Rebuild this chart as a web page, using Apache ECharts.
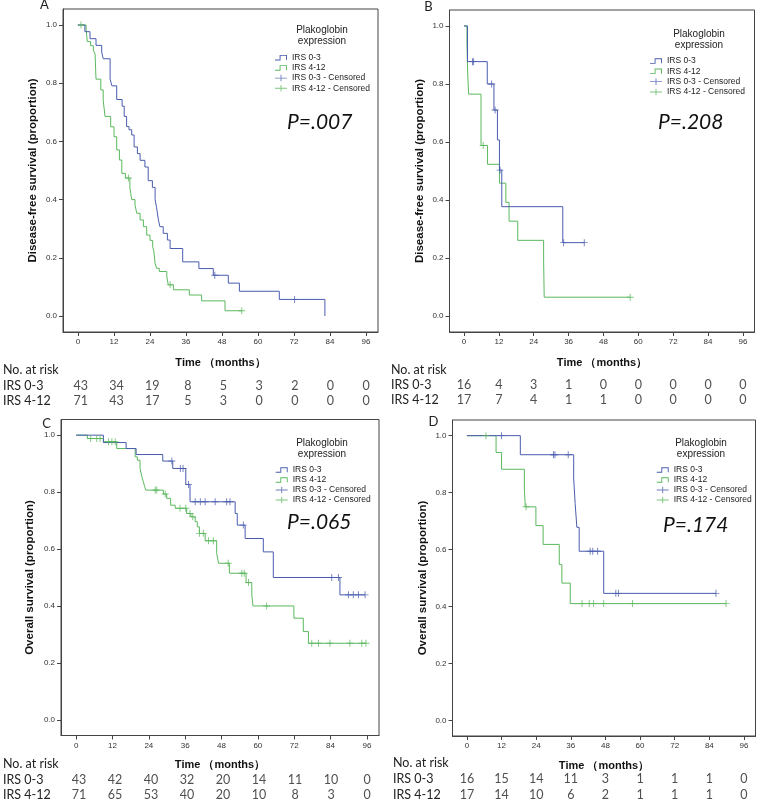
<!DOCTYPE html>
<html><head><meta charset="utf-8">
<script src="https://cdn.jsdelivr.net/npm/echarts@6/dist/echarts.min.js"></script>
<style>html,body{margin:0;padding:0;background:#fff}#c{width:762px;height:803px}</style>
</head><body><div id="c"></div><script>
// ---------- DATA ----------
const xTicks = [0, 12, 24, 36, 48, 60, 72, 84, 96];
const yTicks = [0, 0.2, 0.4, 0.6, 0.8, 1.0];
const groupNames = ['IRS 0-3', 'IRS 4-12'];
const censorNames = ['IRS 0-3 - Censored', 'IRS 4-12 - Censored'];

// Panel A: disease-free survival, cohort 1
const aBlueT = [0, 2.3, 4.0, 6.0, 7.9, 8.4, 10.7, 11.3, 12.9, 14.7, 15.4, 16.2, 17.0, 17.9, 18.7, 19.8, 20.7, 22.3, 23.4, 24.8, 25.7, 26.2, 26.8, 27.3, 28.4, 29.8, 30.7, 34.9, 40.3, 45.1, 50.1, 53.8, 67.1, 82.3];
const aBlueS = [1.0, 0.977, 0.953, 0.930, 0.907, 0.884, 0.814, 0.791, 0.744, 0.721, 0.686, 0.651, 0.640, 0.622, 0.581, 0.558, 0.535, 0.512, 0.465, 0.442, 0.400, 0.372, 0.330, 0.307, 0.284, 0.261, 0.232, 0.186, 0.163, 0.140, 0.113, 0.085, 0.057, 0.0];
const aBlueCens = [45.6, 72.2];
const aGreenT = [0, 2.7, 3.1, 4.2, 5.1, 5.7, 6.0, 7.6, 8.4, 9.0, 10.9, 12.0, 12.9, 13.8, 14.6, 15.8, 17.3, 17.6, 17.9, 19.0, 19.6, 20.7, 21.8, 22.9, 24.0, 24.9, 25.3, 25.7, 26.2, 27.1, 29.6, 30.1, 31.8, 37.1, 41.2, 49.0, 54.6];
const aGreenS = [1.0, 0.986, 0.943, 0.929, 0.914, 0.900, 0.814, 0.777, 0.742, 0.686, 0.650, 0.616, 0.571, 0.536, 0.490, 0.474, 0.440, 0.420, 0.400, 0.381, 0.353, 0.330, 0.307, 0.278, 0.260, 0.238, 0.221, 0.181, 0.164, 0.153, 0.135, 0.107, 0.090, 0.072, 0.052, 0.018, 0.018];
const aGreenCens = [1.0, 16.8, 30.7, 54.6];
const aRisk03 = [43, 34, 19, 8, 5, 3, 2, 0, 0];
const aRisk412 = [71, 43, 17, 5, 3, 0, 0, 0, 0];

// Panel B: disease-free survival, cohort 2
const bBlueT = [0, 1.2, 8.0, 10.3, 11.5, 12.2, 13.0, 34.0, 41.4];
const bBlueS = [1.0, 0.877, 0.800, 0.710, 0.607, 0.503, 0.377, 0.253, 0.253];
const bBlueCens = [2.9, 3.3, 9.5, 10.7, 12.4, 34.3, 41.4];
const bGreenT = [0, 1.0, 1.3, 1.6, 5.85, 8.1, 12.2, 14.4, 15.5, 18.5, 27.4, 27.5, 27.6, 57.2];
const bGreenS = [1.0, 0.941, 0.824, 0.765, 0.588, 0.523, 0.458, 0.392, 0.327, 0.261, 0.196, 0.131, 0.065, 0.065];
const bGreenCens = [6.6, 57.2];
const bRisk03 = [16, 4, 3, 1, 0, 0, 0, 0, 0];
const bRisk412 = [17, 7, 4, 1, 1, 0, 0, 0, 0];

// Panel C: overall survival, cohort 1
const cBlueT = [0, 9.0, 16.5, 19.8, 28.6, 31.9, 36.2, 37.6, 52.5, 53.2, 55.8, 61.8, 65.1, 87.1, 95.4];
const cBlueS = [1.0, 0.974, 0.953, 0.932, 0.909, 0.883, 0.827, 0.766, 0.725, 0.684, 0.637, 0.590, 0.500, 0.439, 0.439];
const cBlueCens = [31.6, 34.4, 35.3, 37.1, 39.3, 41.0, 42.6, 45.9, 49.7, 50.8, 55.2, 84.4, 86.6, 89.9, 91.5, 93.2, 95.4];
const cGreenT = [0, 3.7, 9.0, 13.4, 19.5, 20.2, 21.1, 21.7, 22.2, 22.6, 23.0, 28.8, 29.9, 31.2, 32.7, 36.5, 37.9, 39.3, 40.0, 40.7, 42.6, 46.4, 47.0, 50.6, 56.1, 58.0, 58.4, 71.9, 75.0, 76.7, 95.7];
const cGreenS = [1.0, 0.988, 0.977, 0.953, 0.924, 0.912, 0.884, 0.854, 0.836, 0.820, 0.807, 0.793, 0.778, 0.754, 0.743, 0.725, 0.713, 0.696, 0.678, 0.655, 0.629, 0.585, 0.550, 0.515, 0.482, 0.439, 0.400, 0.357, 0.310, 0.269, 0.269];
const cGreenCens = [4.8, 6.8, 7.9, 10.7, 11.8, 12.9, 26.1, 26.6, 29.4, 34.3, 36.2, 37.6, 38.5, 40.7, 42.0, 43.7, 45.3, 50.2, 54.7, 55.5, 56.9, 62.9, 77.8, 80.0, 83.8, 90.4, 94.3, 95.7];
const cRisk03 = [43, 42, 40, 32, 20, 14, 11, 10, 0];
const cRisk412 = [71, 65, 53, 40, 20, 10, 8, 3, 0];

// Panel D: overall survival, cohort 2
const dBlueT = [0, 18.5, 37.0, 37.5, 38.1, 38.9, 47.4, 86.3];
const dBlueS = [1.0, 0.933, 0.848, 0.762, 0.678, 0.594, 0.446, 0.446];
const dBlueCens = [12.0, 30.0, 30.5, 35.1, 42.7, 43.6, 45.3, 51.6, 52.5, 86.3];
const dGreenT = [0, 10.1, 12.0, 19.9, 20.2, 23.9, 26.4, 32.0, 32.9, 35.8, 89.8];
const dGreenS = [1.0, 0.941, 0.882, 0.816, 0.750, 0.684, 0.618, 0.547, 0.482, 0.410, 0.410];
const dGreenCens = [6.6, 20.5, 39.9, 42.4, 43.9, 47.4, 57.4, 89.8];
const dRisk03 = [16, 15, 14, 11, 3, 1, 1, 1, 0];
const dRisk412 = [17, 14, 10, 6, 2, 1, 1, 1, 0];

const pValues = ['P=.007', 'P=.208', 'P=.065', 'P=.174'];
const yTitles = ['Disease-free survival (proportion)', 'Disease-free survival (proportion)', 'Overall survival (proportion)', 'Overall survival (proportion)'];
const xTitle = 'Time （months）';
const letters = ['A', 'B', 'C', 'D'];
const riskRows = ['IRS 4-12', 'IRS 0-3', 'No. at risk'];

// ---------- LAYOUT ----------
const BLUE = '#4a5cae', GREEN = '#5bb85e';
const AX = '#444';
const ARIAL = '"Liberation Sans", Arial, sans-serif';
const CAL = 'Lato, "Open Sans", sans-serif';

const panels = [
  {curves: [[aBlueT, aBlueS, aBlueCens], [aGreenT, aGreenS, aGreenCens]], risk: [aRisk03, aRisk412],
   grid: {left: 63, top: 9, width: 315, height: 323}, yGap: 24, xGap: 25,
   risk_grid: {top: 362.25, height: 46.5}, labelX: 0,
   legend: {left: 275, top: 52.6, pitch: 10.2}, legTitle: [322, 30, 41.7], pPos: [287, 122], letterPos: [44.5, 4.5]},
  {curves: [[bBlueT, bBlueS, bBlueCens], [bGreenT, bGreenS, bGreenCens]], risk: [bRisk03, bRisk412],
   grid: {left: 449.5, top: 10, width: 305, height: 322}, yGap: 24, xGap: 25,
   risk_grid: {top: 362.5, height: 45}, labelX: 391,
   legend: {left: 650, top: 55.9, pitch: 10.3}, legTitle: [699, 34, 45], pPos: [658, 122], letterPos: [428.5, 7]},
  {curves: [[cBlueT, cBlueS, cBlueCens], [cGreenT, cGreenS, cGreenCens]], risk: [cRisk03, cRisk412],
   grid: {left: 61, top: 419.5, width: 318, height: 316}, yGap: 25, xGap: 24,
   risk_grid: {top: 756.75, height: 49.5}, labelX: 0,
   legend: {left: 275.7, top: 465, pitch: 10}, legTitle: [322, 443, 454], pPos: [287, 522], letterPos: [46.5, 423.5]},
  {curves: [[dBlueT, dBlueS, dBlueCens], [dGreenT, dGreenS, dGreenCens]], risk: [dRisk03, dRisk412],
   grid: {left: 452.5, top: 420, width: 303, height: 316}, yGap: 24, xGap: 24,
   risk_grid: {top: 755.5, height: 51}, labelX: 393,
   legend: {left: 656.7, top: 465, pitch: 10}, legTitle: [701, 443, 454], pPos: [663, 525], letterPos: [433.5, 422]}
];

const PLUS = 'path://M0,2.6H6V3.4H0Z M2.6,0H3.4V6H2.6Z';
const STEP_ICON = 'path://M0,5.5H5V0.5H13V6H12V1.5H6V6.5H0Z';
const PLUS_ICON = 'path://M0,3H13V4H0Z M6,0H7V7H6Z';

function stepAt(T, S, t) {
  let v = S[0];
  for (let i = 0; i < T.length; i++) { if (T[i] <= t + 1e-9) v = S[i]; else break; }
  return v;
}

const grids = [], xAxes = [], yAxes = [], series = [], legends = [], graphics = [];
const colors = [BLUE, GREEN];

panels.forEach((p, i) => {
  grids.push(Object.assign({show: true, borderColor: AX, borderWidth: 1, backgroundColor: 'transparent'}, p.grid));
  xAxes.push({
    gridIndex: i, type: 'value', min: -5, max: 100,
    splitLine: {show: false},
    axisLine: {show: true, onZero: false, lineStyle: {color: AX, width: 1}},
    axisTick: {show: true, customValues: xTicks, length: 4, lineStyle: {color: AX}},
    axisLabel: {customValues: xTicks, fontSize: 8, color: '#333', margin: 6, fontFamily: ARIAL},
    name: xTitle, nameLocation: 'middle', nameGap: p.xGap,
    nameTextStyle: {fontWeight: 'bold', fontSize: 11, color: '#111', fontFamily: ARIAL}
  });
  yAxes.push({
    gridIndex: i, type: 'value', min: -0.055, max: 1.055,
    splitLine: {show: false},
    axisLine: {show: true, onZero: false, lineStyle: {color: AX, width: 1}},
    axisTick: {show: true, customValues: yTicks, length: 4, lineStyle: {color: AX}},
    axisLabel: {customValues: yTicks, fontSize: 8, color: '#333', margin: 6, fontFamily: ARIAL,
      formatter: v => v.toFixed(1)},
    name: yTitles[i], nameLocation: 'middle', nameGap: p.yGap,
    nameTextStyle: {fontWeight: 'bold', fontSize: 11.5, color: '#111', fontFamily: ARIAL}
  });
  p.curves.forEach((c, g) => {
    const [T, S, C] = c;
    series.push({
      name: groupNames[g], type: 'line', xAxisIndex: i, yAxisIndex: i, step: 'end',
      data: T.map((t, k) => [t, S[k]]), showSymbol: false, symbol: 'none',
      lineStyle: {color: colors[g], width: 1}, itemStyle: {color: colors[g]},
      silent: true, z: 3 - g
    });
    series.push({
      name: censorNames[g], type: 'scatter', xAxisIndex: i, yAxisIndex: i,
      data: C.map(t => [t, stepAt(T, S, t)]), symbol: PLUS, symbolSize: 7,
      itemStyle: {color: colors[g]}, silent: true, z: 4
    });
  });
  legends.push({
    left: p.legend.left, top: p.legend.top, orient: 'vertical', padding: 0,
    itemWidth: 12, itemHeight: 7, itemGap: 0, selectedMode: false,
    textStyle: {fontSize: 8.5, lineHeight: p.legend.pitch, color: '#222', fontFamily: ARIAL},
    data: [
      {name: groupNames[0], icon: STEP_ICON}, {name: groupNames[1], icon: STEP_ICON},
      {name: censorNames[0], icon: PLUS_ICON}, {name: censorNames[1], icon: PLUS_ICON}
    ]
  });
  graphics.push({type: 'text', x: p.letterPos[0], y: p.letterPos[1],
    style: {text: letters[i], font: '13px ' + CAL, fill: '#222', align: 'center', verticalAlign: 'middle'}});
  graphics.push({type: 'text', x: p.legTitle[0], y: p.legTitle[1],
    style: {text: 'Plakoglobin', font: '10px ' + ARIAL, fill: '#222', align: 'center', verticalAlign: 'middle'}});
  graphics.push({type: 'text', x: p.legTitle[0], y: p.legTitle[2],
    style: {text: 'expression', font: '10px ' + ARIAL, fill: '#222', align: 'center', verticalAlign: 'middle'}});
  graphics.push({type: 'text', x: p.pPos[0], y: p.pPos[1],
    style: {text: pValues[i], font: 'italic 21px ' + CAL, fill: '#111', align: 'left', verticalAlign: 'middle'}});
});

// risk tables
panels.forEach((p, i) => {
  const gi = 4 + i;
  grids.push({left: p.grid.left, width: p.grid.width, top: p.risk_grid.top, height: p.risk_grid.height, show: false});
  xAxes.push({gridIndex: gi, type: 'value', min: -5, max: 100, show: false});
  yAxes.push({
    gridIndex: gi, type: 'category', data: riskRows,
    axisLine: {show: false}, axisTick: {show: false}, splitLine: {show: false},
    axisLabel: {interval: 0, hideOverlap: false, align: 'left', margin: p.grid.left - p.labelX,
      fontSize: 12.5, color: '#222', fontFamily: CAL}
  });
  p.risk.forEach((arr, g) => {
    series.push({
      type: 'scatter', xAxisIndex: gi, yAxisIndex: gi, symbol: 'circle', symbolSize: 1,
      itemStyle: {color: 'rgba(0,0,0,0)'}, silent: true,
      data: arr.map((v, k) => [xTicks[k], groupNames[g], v]),
      label: {show: true, position: 'inside', formatter: q => String(q.value[2]),
        fontSize: 12.5, color: '#222', fontFamily: CAL}
    });
  });
});

const chart = echarts.init(document.getElementById('c'), null, {renderer: 'canvas'});
chart.setOption({
  animation: false,
  textStyle: {fontFamily: ARIAL},
  grid: grids, xAxis: xAxes, yAxis: yAxes, series: series, legend: legends, graphic: graphics
});
</script></body></html>
